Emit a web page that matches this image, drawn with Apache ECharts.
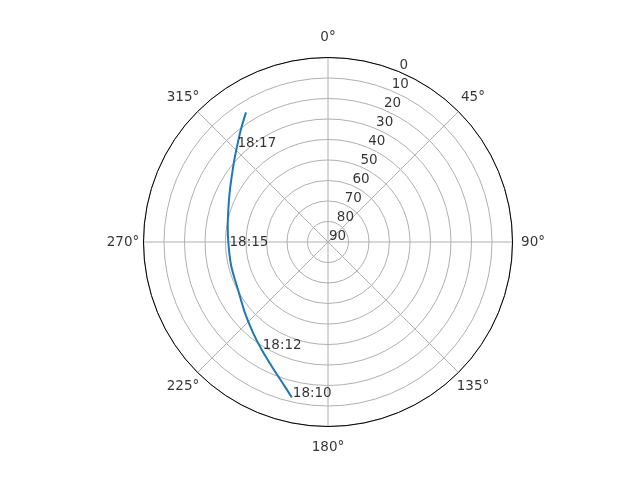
<!DOCTYPE html>
<html>
<head>
<meta charset="utf-8">
<script src="https://cdn.jsdelivr.net/npm/echarts@6/dist/echarts.min.js"></script>
<style>html,body{margin:0;padding:0;background:#fff}#c{width:640px;height:480px}</style>
</head>
<body>
<div id="c"></div>
<script>
// Satellite pass: elevation (deg) and azimuth (deg), in time order
var elevation = [12.2, 18.3, 23.4, 28.3, 32.5, 36.7, 40.3, 41.3, 41.5, 41.4, 40.5, 38.9, 36.4, 33.2, 29.2, 24.7, 19.7, 15.2];
var azimuth   = [193.1, 198.4, 204.3, 211.6, 219.4, 229.4, 241.9, 253.6, 259.7, 269.4, 278.8, 287.9, 296.4, 304.2, 311.3, 317.6, 323.2, 327.7];

// Time annotations
var timeLabels = ['18:10', '18:12', '18:15', '18:17'];
var timeElev   = [12.1, 28.5, 41.4, 25.9];
var timeAz     = [193.1, 211.7, 267.2, 315.8];

// Radial tick labels (elevation)
var radialTicks = [0, 10, 20, 30, 40, 50, 60, 70, 80, 90];
var radialLabelAngle = 22.5;

// Angle tick labels (azimuth)
var angleTicks = [0, 45, 90, 135, 180, 225, 270, 315];
var angleLabelRadius = -10;

var FONT = 'DejaVu Sans';
var FS = 13.5;

var lineData = elevation.map(function (e, i) { return [e, azimuth[i]]; });
var timeData = timeLabels.map(function (t, i) { return { value: [timeElev[i], timeAz[i]], name: t }; });
var radialData = radialTicks.map(function (r) { return { value: [r, radialLabelAngle], name: String(r) }; });
var angleData = angleTicks.map(function (a) { return { value: [angleLabelRadius, a], name: a + '°' }; });

var chart = echarts.init(document.getElementById('c'), null, { renderer: 'canvas' });
chart.setOption({
  animation: false,
  backgroundColor: '#ffffff',
  polar: { center: [328, 242], radius: 184.5 },
  angleAxis: {
    type: 'value', min: 0, max: 360, interval: 45,
    startAngle: 90, clockwise: true,
    axisLine: { show: true, lineStyle: { color: '#000', width: 1 } },
    axisTick: { show: false },
    axisLabel: { show: false },
    splitLine: { show: true, lineStyle: { color: '#b0b0b0', width: 1 } }
  },
  radiusAxis: {
    type: 'value', min: 0, max: 90, interval: 10, inverse: true,
    axisLine: { show: false },
    axisTick: { show: false },
    axisLabel: { show: false },
    splitLine: { show: true, lineStyle: { color: '#b0b0b0', width: 1 } }
  },
  series: [
    {
      type: 'line', coordinateSystem: 'polar', data: lineData,
      showSymbol: false, symbol: 'none', smooth: 0.3,
      lineStyle: { color: '#1f77b4', width: 2 }, z: 5
    },
    {
      type: 'scatter', coordinateSystem: 'polar', data: timeData,
      symbolSize: 0, clip: false, z: 6,
      label: { show: true, position: 'right', distance: 1, offset: [0, -4],
        formatter: '{b}', color: '#000', fontFamily: FONT, fontSize: FS }
    },
    {
      type: 'scatter', coordinateSystem: 'polar', data: radialData,
      symbolSize: 0, clip: false, z: 6,
      label: { show: true, position: 'right', distance: 1, offset: [0, -6],
        formatter: '{b}', color: '#000', fontFamily: FONT, fontSize: FS }
    },
    {
      type: 'scatter', coordinateSystem: 'polar', data: angleData,
      symbolSize: 0, clip: false, z: 6,
      label: { show: true, position: 'inside',
        formatter: '{b}', color: '#000', fontFamily: FONT, fontSize: FS }
    }
  ]
});
</script>
</body>
</html>
